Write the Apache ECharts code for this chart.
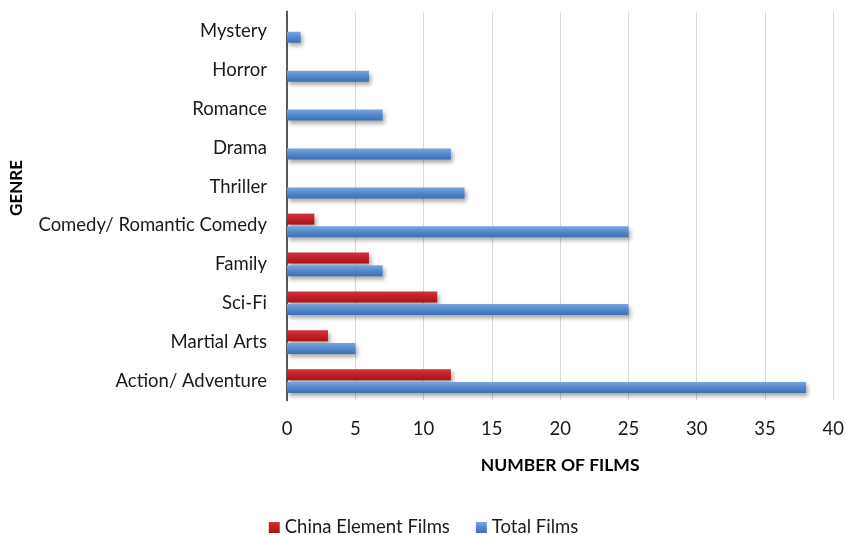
<!DOCTYPE html>
<html>
<head>
<meta charset="utf-8">
<script src="https://cdn.jsdelivr.net/npm/echarts@6/dist/echarts.min.js"></script>
<style>html,body{margin:0;padding:0;background:#fff}#c{width:847px;height:535px}</style>
</head>
<body>
<div id="c"></div>
<script>
const genres = ['Action/ Adventure', 'Martial Arts', 'Sci-Fi', 'Family', 'Comedy/ Romantic Comedy', 'Thriller', 'Drama', 'Romance', 'Horror', 'Mystery'];
const chinaElementFilms = [12, 3, 11, 6, 2, 0, 0, 0, 0, 0];
const totalFilms = [38, 5, 25, 7, 25, 13, 12, 7, 6, 1];
const xTicks = [0, 5, 10, 15, 20, 25, 30, 35, 40];

const FONT = 'Lato, "Liberation Sans", sans-serif';
const chart = echarts.init(document.getElementById('c'), null, {renderer: 'canvas'});

function grad(top, mid, bot) {
  return new echarts.graphic.LinearGradient(0, 0, 0, 1, [
    {offset: 0, color: top}, {offset: 0.5, color: mid}, {offset: 1, color: bot}
  ]);
}

chart.setOption({
  animation: false,
  textStyle: {fontFamily: FONT},
  grid: {left: 286, right: 13, top: 11.5, height: 389},
  legend: {
    top: 513, left: 'center', itemWidth: 11, itemHeight: 11, itemGap: 26,
    icon: 'rect',
    textStyle: {fontSize: 18.5, color: '#1a1a1a', fontFamily: FONT},
    data: ['China Element Films', 'Total Films']
  },
  xAxis: {
    type: 'value', min: xTicks[0], max: xTicks[xTicks.length - 1], interval: 5,
    name: 'NUMBER OF FILMS', nameLocation: 'middle', nameGap: 56,
    nameTextStyle: {fontSize: 17.5, fontWeight: 'bold', color: '#000', fontFamily: FONT},
    axisLine: {show: false}, axisTick: {show: false},
    axisLabel: {fontSize: 18.5, color: '#1a1a1a', margin: 19, fontFamily: FONT},
    splitLine: {show: true, lineStyle: {color: '#d9d9d9', width: 1}}
  },
  yAxis: {
    type: 'category', data: genres,
    name: 'GENRE', nameLocation: 'middle', nameGap: 262, nameRotate: 90,
    nameTextStyle: {fontSize: 17, fontWeight: 'bold', color: '#000', fontFamily: FONT, padding: [0, 0, 0, 36]},
    axisLine: {show: true, lineStyle: {color: '#595959', width: 2}},
    axisTick: {show: false},
    axisLabel: {fontSize: 18.5, color: '#1a1a1a', margin: 20, fontFamily: FONT}
  },
  series: [
    {
      name: 'China Element Films', type: 'bar', data: chinaElementFilms,
      barWidth: 11, barGap: '15%',
      itemStyle: {
        color: grad('#d0353c', '#c01f28', '#a8141c'),
        shadowColor: 'rgba(0,0,0,0.35)', shadowBlur: 4, shadowOffsetX: 2, shadowOffsetY: 3
      }
    },
    {
      name: 'Total Films', type: 'bar', data: totalFilms,
      barWidth: 11,
      itemStyle: {
        color: grad('#7aa6dc', '#5388cc', '#3f6fb0'),
        shadowColor: 'rgba(0,0,0,0.35)', shadowBlur: 4, shadowOffsetX: 2, shadowOffsetY: 3
      }
    }
  ]
});
</script>
</body>
</html>
